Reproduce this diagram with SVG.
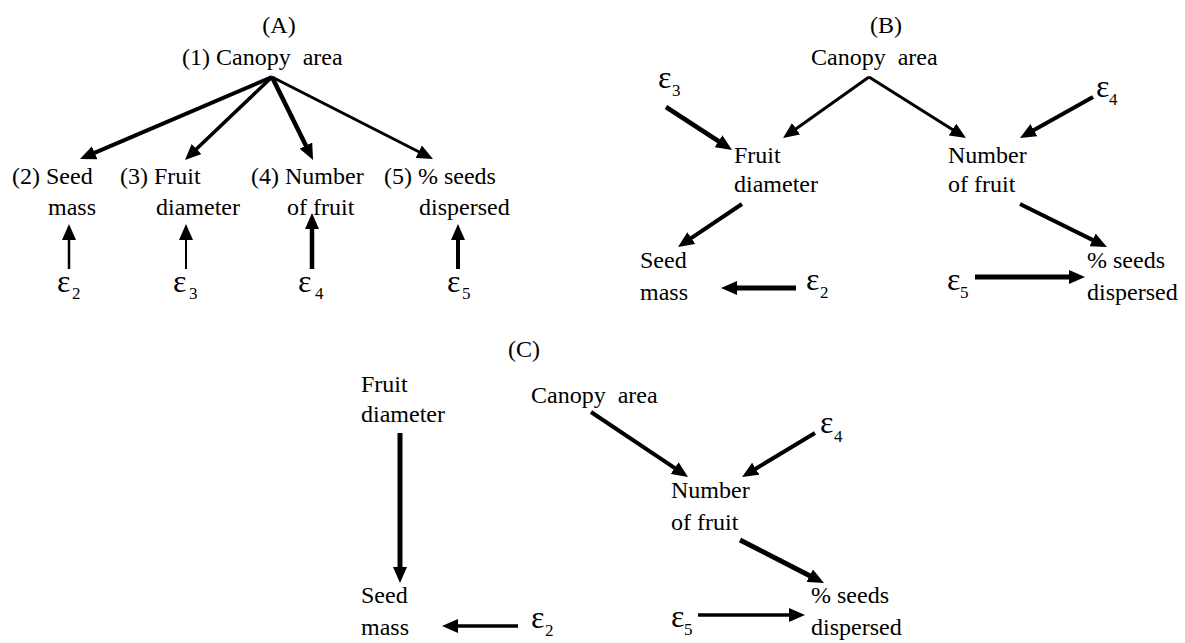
<svg xmlns="http://www.w3.org/2000/svg" width="1185" height="643" viewBox="0 0 1185 643" font-family="Liberation Serif, DejaVu Serif, serif">
<style>
text{font-family:"Liberation Serif","DejaVu Serif",serif;font-size:24px;fill:#000;white-space:pre}
.eps{font-size:32px}
.sub{font-size:17px}
.ttl{text-anchor:middle}
line{stroke:#000;stroke-linecap:butt}
</style>
<defs>
<marker id="ah" markerUnits="userSpaceOnUse" markerWidth="16" markerHeight="14" refX="6" refY="7" orient="auto">
<path d="M0,0 L16,7 L0,14 z" fill="#000"/>
</marker>
</defs>
<rect width="1185" height="643" fill="#fff"/>
<g id="titles">
<text class="ttl" x="279" y="33">(A)</text>
<text class="ttl" x="886" y="33">(B)</text>
<text class="ttl" x="524" y="357">(C)</text>
</g>
<g id="panelA">
<g id="A-canopy"><text x="182" y="65">(1) Canopy  area</text></g>
<g id="A-seed"><text x="12" y="184">(2) Seed</text><text x="48" y="215">mass</text></g>
<g id="A-fruit"><text x="120" y="184">(3) Fruit</text><text x="156" y="215">diameter</text></g>
<g id="A-number"><text x="251" y="184">(4) Number</text><text x="287" y="215">of fruit</text></g>
<g id="A-dispersed"><text x="384" y="184">(5) % seeds</text><text x="419" y="215">dispersed</text></g>
<g id="A-e2"><text class="eps" x="57" y="292">ε</text><text class="sub" x="72" y="299">2</text></g>
<g id="A-e3"><text class="eps" x="173" y="292">ε</text><text class="sub" x="189" y="299">3</text></g>
<g id="A-e4"><text class="eps" x="298" y="292">ε</text><text class="sub" x="315" y="299">4</text></g>
<g id="A-e5"><text class="eps" x="447" y="292">ε</text><text class="sub" x="462" y="299">5</text></g>
</g>
<g id="panelB">
<g id="B-canopy"><text x="811" y="65">Canopy  area</text></g>
<g id="B-fruit"><text x="734" y="163">Fruit</text><text x="734" y="192">diameter</text></g>
<g id="B-number"><text x="948" y="163">Number</text><text x="948" y="192">of fruit</text></g>
<g id="B-seed"><text x="640" y="268">Seed</text><text x="640" y="300">mass</text></g>
<g id="B-dispersed"><text x="1087" y="268">% seeds</text><text x="1087" y="300">dispersed</text></g>
<g id="B-e3"><text class="eps" x="658" y="88">ε</text><text class="sub" x="672" y="96">3</text></g>
<g id="B-e4"><text class="eps" x="1096" y="97">ε</text><text class="sub" x="1109" y="105">4</text></g>
<g id="B-e2"><text class="eps" x="806" y="290">ε</text><text class="sub" x="820" y="298">2</text></g>
<g id="B-e5"><text class="eps" x="947" y="290">ε</text><text class="sub" x="960" y="298">5</text></g>
</g>
<g id="panelC">
<g id="C-fruit"><text x="361" y="392">Fruit</text><text x="361" y="422">diameter</text></g>
<g id="C-canopy"><text x="531" y="403">Canopy  area</text></g>
<g id="C-number"><text x="671" y="498">Number</text><text x="671" y="530">of fruit</text></g>
<g id="C-seed"><text x="361" y="603">Seed</text><text x="361" y="635">mass</text></g>
<g id="C-dispersed"><text x="811" y="603">% seeds</text><text x="811" y="635">dispersed</text></g>
<g id="C-e4"><text class="eps" x="820" y="433">ε</text><text class="sub" x="834" y="442">4</text></g>
<g id="C-e2"><text class="eps" x="531" y="628">ε</text><text class="sub" x="545" y="636">2</text></g>
<g id="C-e5"><text class="eps" x="671" y="627">ε</text><text class="sub" x="684" y="635">5</text></g>
</g>
<g id="connectors">
<line x1="272" y1="77" x2="89.2" y2="155.1" stroke-width="4" marker-end="url(#ah)"/>
<line x1="272" y1="77" x2="192.2" y2="153.1" stroke-width="3.5" marker-end="url(#ah)"/>
<line x1="272" y1="77" x2="308.6" y2="151" stroke-width="4.5" marker-end="url(#ah)"/>
<line x1="272" y1="77" x2="424.1" y2="154.5" stroke-width="3" marker-end="url(#ah)"/>
<line x1="69" y1="269" x2="69" y2="234" stroke-width="2.5" marker-end="url(#ah)"/>
<line x1="186" y1="269" x2="186" y2="234" stroke-width="2" marker-end="url(#ah)"/>
<line x1="312" y1="269" x2="312" y2="223" stroke-width="4.5" marker-end="url(#ah)"/>
<line x1="458" y1="269" x2="458" y2="234" stroke-width="4" marker-end="url(#ah)"/>
<line x1="869" y1="77" x2="791.2" y2="132.2" stroke-width="3" marker-end="url(#ah)"/>
<line x1="869" y1="77" x2="957.5" y2="132.7" stroke-width="3" marker-end="url(#ah)"/>
<line x1="666" y1="107" x2="723.6" y2="144.5" stroke-width="4.5" marker-end="url(#ah)"/>
<line x1="1093" y1="97" x2="1028.7" y2="133.1" stroke-width="4" marker-end="url(#ah)"/>
<line x1="742" y1="204" x2="686.3" y2="241.4" stroke-width="4" marker-end="url(#ah)"/>
<line x1="1020" y1="204" x2="1098" y2="242.6" stroke-width="4" marker-end="url(#ah)"/>
<line x1="796" y1="288" x2="731" y2="288" stroke-width="5" marker-end="url(#ah)"/>
<line x1="975" y1="277" x2="1075" y2="277" stroke-width="5" marker-end="url(#ah)"/>
<line x1="400" y1="433" x2="400" y2="573" stroke-width="5" marker-end="url(#ah)"/>
<line x1="518" y1="626" x2="452" y2="626" stroke-width="3.5" marker-end="url(#ah)"/>
<line x1="591" y1="412" x2="679.7" y2="471.4" stroke-width="4" marker-end="url(#ah)"/>
<line x1="815" y1="433" x2="750.6" y2="471.8" stroke-width="4" marker-end="url(#ah)"/>
<line x1="740" y1="540" x2="815.1" y2="578.4" stroke-width="5" marker-end="url(#ah)"/>
<line x1="698" y1="615" x2="795" y2="615" stroke-width="3.5" marker-end="url(#ah)"/>
</g>
</svg>
